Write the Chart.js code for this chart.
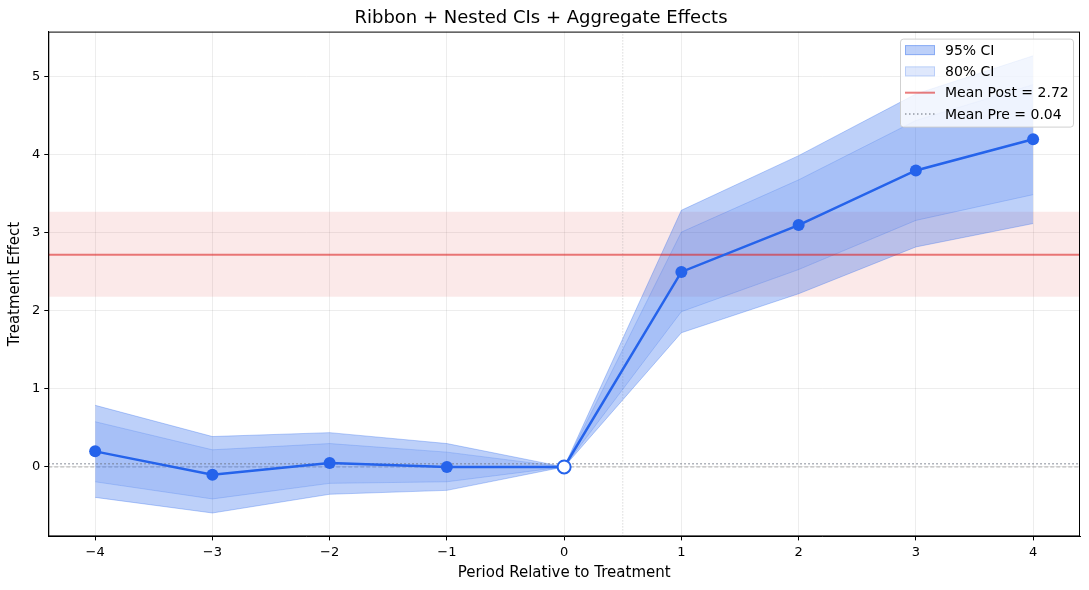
<!DOCTYPE html>
<html>
<head>
<meta charset="utf-8">
<script src="https://cdn.jsdelivr.net/npm/chart.js@4/dist/chart.umd.min.js"></script>
<style>
  html, body { margin: 0; padding: 0; background: #fff; }
  #wrap { width: 1089px; height: 590px; }
</style>
</head>
<body>
<div id="wrap"><canvas id="chart" width="1089" height="590"></canvas></div>
<script>
// event-study estimates
const periods = [-4, -3, -2, -1, 0, 1, 2, 3, 4];
const estimate = [0.2, -0.1, 0.05, 0.0, 0.0, 2.5, 3.1, 3.8, 4.2];
const ci95Lower = [-0.39, -0.59, -0.35, -0.30, 0.0, 1.72, 2.22, 2.82, 3.12];
const ci95Upper = [0.79, 0.39, 0.44, 0.30, 0.0, 3.29, 3.99, 4.78, 5.27];
const ci80Lower = [-0.19, -0.41, -0.21, -0.19, 0.0, 1.99, 2.53, 3.16, 3.49];
const ci80Upper = [0.58, 0.22, 0.30, 0.19, 0.0, 3.01, 3.68, 4.44, 4.90];
const meanPost = 2.72;
const meanPostBand = [2.18, 3.27];
const meanPre = 0.04;
const treatmentAt = 0.5;

const xMin = -4.4, xMax = 4.4, yMin = -0.89, yMax = 5.58;
const BLUE = '#2563eb';

const pts = arr => periods.map((p, i) => ({ x: p, y: arr[i] }));
const hline = y => [{ x: xMin, y: y }, { x: xMax, y: y }];

const font = "'DejaVu Sans', sans-serif";

// matplotlib-like frame + legend inside the axes
const framePlugin = {
  id: 'frame',
  afterDraw(chart) {
    const { ctx, chartArea: a } = chart;
    ctx.save();
    ctx.strokeStyle = '#000';
    ctx.lineWidth = 1;
    ctx.strokeRect(a.left + 0.5, a.top + 0.5, a.right - a.left - 1, a.bottom - a.top - 1);

    // legend
    const items = [
      { label: '95% CI', type: 'patch', fill: 'rgba(37,99,235,0.3)', stroke: 'rgba(37,99,235,0.35)' },
      { label: '80% CI', type: 'patch', fill: 'rgba(37,99,235,0.15)', stroke: 'rgba(37,99,235,0.2)' },
      { label: 'Mean Post = ' + meanPost.toFixed(2), type: 'line', color: 'rgba(220,38,38,0.6)', dash: [] , width: 2 },
      { label: 'Mean Pre = ' + meanPre.toFixed(2), type: 'line', color: 'rgba(107,114,128,0.7)', dash: [1.5, 2.5], width: 1.5 }
    ];
    const w = 173, h = 88;
    const x0 = a.right - 7 - w, y0 = a.top + 7;
    ctx.fillStyle = 'rgba(255,255,255,0.8)';
    ctx.strokeStyle = 'rgba(204,204,204,0.9)';
    ctx.beginPath();
    ctx.roundRect(x0 + 0.5, y0 + 0.5, w, h, 3);
    ctx.fill();
    ctx.stroke();
    ctx.font = '14px ' + font;
    ctx.textBaseline = 'middle';
    items.forEach((it, i) => {
      const cy = y0 + 11.5 + i * 21.3;
      const lx = x0 + 5;
      if (it.type === 'patch') {
        ctx.fillStyle = it.fill;
        ctx.fillRect(lx, cy - 5, 30, 10);
        ctx.strokeStyle = it.stroke;
        ctx.strokeRect(lx + 0.5, cy - 4.5, 29, 9);
      } else {
        ctx.strokeStyle = it.color;
        ctx.lineWidth = it.width;
        ctx.setLineDash(it.dash);
        ctx.beginPath();
        ctx.moveTo(lx, cy);
        ctx.lineTo(lx + 30, cy);
        ctx.stroke();
        ctx.setLineDash([]);
        ctx.lineWidth = 1;
      }
      ctx.fillStyle = '#000';
      ctx.fillText(it.label, lx + 40, cy + 1);
    });
    ctx.restore();
  }
};

const ctx = document.getElementById('chart').getContext('2d');
new Chart(ctx, {
  type: 'line',
  data: {
    datasets: [
      { // mean post band upper
        data: hline(meanPostBand[1]), borderWidth: 0, pointRadius: 0,
        backgroundColor: 'rgba(220,38,38,0.1)', fill: '+1', order: 10
      },
      { data: hline(meanPostBand[0]), borderWidth: 0, pointRadius: 0, fill: false, order: 10 },
      { // zero line
        data: hline(0), borderColor: 'rgba(128,128,128,0.6)', borderWidth: 1,
        borderDash: [4, 2], pointRadius: 0, fill: false, order: 9
      },
      { // treatment onset
        data: [{ x: treatmentAt, y: yMin }, { x: treatmentAt, y: yMax }],
        borderColor: 'rgba(150,150,150,0.5)', borderWidth: 1, borderDash: [1, 2],
        pointRadius: 0, fill: false, order: 9
      },
      { // 95% CI
        data: pts(ci95Upper), borderColor: 'rgba(37,99,235,0.3)', borderWidth: 1,
        backgroundColor: 'rgba(37,99,235,0.3)', pointRadius: 0, fill: '+1', order: 8
      },
      { data: pts(ci95Lower), borderColor: 'rgba(37,99,235,0.3)', borderWidth: 1, pointRadius: 0, fill: false, order: 8 },
      { // 80% CI
        data: pts(ci80Upper), borderColor: 'rgba(37,99,235,0.2)', borderWidth: 1,
        backgroundColor: 'rgba(37,99,235,0.15)', pointRadius: 0, fill: '+1', order: 7
      },
      { data: pts(ci80Lower), borderColor: 'rgba(37,99,235,0.2)', borderWidth: 1, pointRadius: 0, fill: false, order: 7 },
      { // mean post
        data: hline(meanPost), borderColor: 'rgba(220,38,38,0.6)', borderWidth: 2,
        pointRadius: 0, fill: false, order: 6
      },
      { // mean pre
        data: hline(meanPre), borderColor: 'rgba(107,114,128,0.7)', borderWidth: 1.5,
        borderDash: [1.5, 2.5], pointRadius: 0, fill: false, order: 6
      },
      { // point estimates
        data: pts(estimate), borderColor: BLUE, borderWidth: 2.5, fill: false, order: 1,
        pointRadius: periods.map(p => p === 0 ? 6.5 : 6),
        pointBackgroundColor: periods.map(p => p === 0 ? '#fff' : BLUE),
        pointBorderColor: BLUE,
        pointBorderWidth: periods.map(p => p === 0 ? 2 : 0)
      }
    ]
  },
  options: {
    responsive: false,
    animation: false,
    layout: { padding: { left: 2, right: 9, top: 0, bottom: 8 } },
    plugins: {
      legend: { display: false },
      tooltip: { enabled: false },
      title: {
        display: true, text: 'Ribbon + Nested CIs + Aggregate Effects', color: '#000',
        font: { family: font, size: 18, weight: 'normal' }, padding: { top: 8, bottom: 2 }
      }
    },
    scales: {
      x: {
        type: 'linear', min: xMin, max: xMax,
        ticks: {
          stepSize: 1, includeBounds: false, color: '#000', padding: 4,
          font: { family: font, size: 13 },
          callback: v => String(v).replace('-', '\u2212')
        },
        grid: { color: 'rgba(0,0,0,0.07)', tickColor: '#000', tickLength: 4 },
        border: { color: '#000' },
        title: { display: true, text: 'Period Relative to Treatment', color: '#000', font: { family: font, size: 15 }, padding: { top: 0, bottom: 0 } }
      },
      y: {
        type: 'linear', min: yMin, max: yMax,
        ticks: {
          stepSize: 1, includeBounds: false, color: '#000', padding: 4,
          font: { family: font, size: 13 },
          callback: v => String(v).replace('-', '\u2212')
        },
        grid: { color: 'rgba(0,0,0,0.07)', tickColor: '#000', tickLength: 4 },
        border: { color: '#000' },
        title: { display: true, text: 'Treatment Effect', color: '#000', font: { family: font, size: 15 }, padding: { bottom: 4 } }
      }
    }
  },
  plugins: [framePlugin]
});
</script>
</body>
</html>
